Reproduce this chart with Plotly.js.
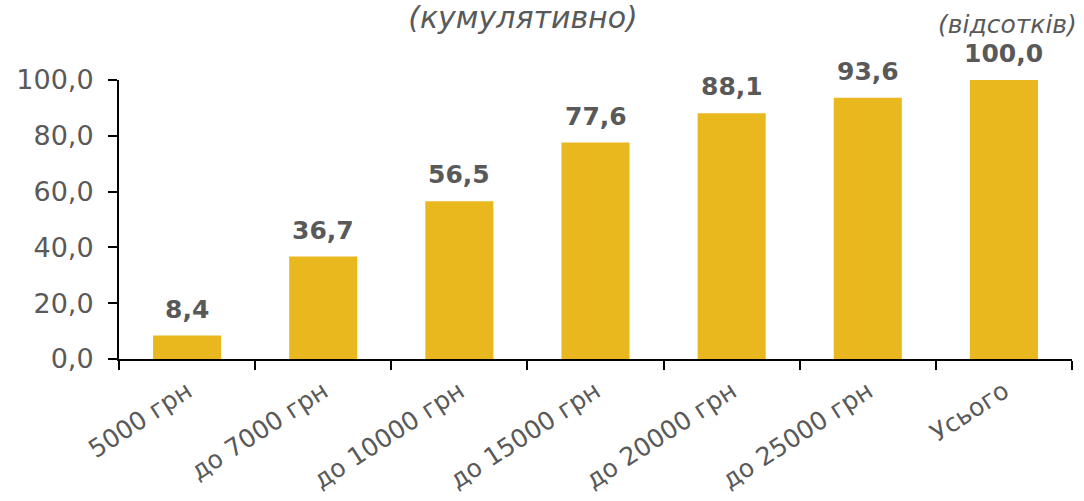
<!DOCTYPE html>
<html>
<head>
<meta charset="utf-8">
<script src="https://cdn.plot.ly/plotly-3.0.1.min.js"></script>
<style>html,body{margin:0;padding:0;background:#fff;}#chart{width:1084px;height:501px;}</style>
</head>
<body>
<div id="chart"></div>
<script>
const categories = ["5000 грн", "до 7000 грн", "до 10000 грн", "до 15000 грн", "до 20000 грн", "до 25000 грн", "Усього"];
const values = [8.4, 36.7, 56.5, 77.6, 88.1, 93.6, 100.0];
const yTicks = [0, 20, 40, 60, 80, 100];
const yTickLabels = ["0,0", "20,0", "40,0", "60,0", "80,0", "100,0"];
const titleText = "(кумулятивно)";
const unitText = "(відсотків)";

const FONT = "DejaVu Sans, Verdana, sans-serif";
const GRAY = "#595959";

const fmt = v => v.toFixed(1).replace(".", ",");

const trace = {
  type: "bar",
  x: categories,
  y: values,
  marker: {color: "#E9B81E"},
  hoverinfo: "skip"
};

const annotations = categories.map((c, i) => ({
  x: c, y: values[i], xref: "x", yref: "y",
  text: "<b>" + fmt(values[i]) + "</b>",
  showarrow: false, yanchor: "bottom", yshift: 10,
  font: {family: FONT, size: 25, color: GRAY}
}));
annotations.push({
  x: 0.932, y: 1.2, xref: "paper", yref: "paper",
  text: "<i>" + unitText + "</i>",
  showarrow: false, xanchor: "center", yanchor: "middle",
  font: {family: FONT, size: 25, color: GRAY}
});

const layout = {
  width: 1084, height: 501,
  margin: {l: 119, r: 12, t: 80, b: 142},
  paper_bgcolor: "#fff", plot_bgcolor: "#fff",
  showlegend: false,
  bargap: 0.5,
  title: {
    text: "<i>" + titleText + "</i>",
    x: 0.4825, xref: "container", xanchor: "center",
    y: 0.966, yref: "container", yanchor: "middle",
    font: {family: FONT, size: 30, color: GRAY}
  },
  xaxis: {
    type: "category",
    showline: true, linecolor: "#000", linewidth: 2,
    ticks: "outside", tickson: "boundaries", ticklen: 9, tickwidth: 2, tickcolor: "#000",
    tickangle: -33,
    ticklabelstandoff: 6,
    tickfont: {family: FONT, size: 25, color: GRAY},
    showgrid: false, zeroline: false, fixedrange: true
  },
  yaxis: {
    range: [0, 100],
    tickvals: yTicks, ticktext: yTickLabels,
    showline: true, linecolor: "#000", linewidth: 2,
    ticks: "outside", ticklen: 9, tickwidth: 2, tickcolor: "#000",
    ticklabelstandoff: 9,
    tickfont: {family: FONT, size: 27, color: GRAY},
    showgrid: false, zeroline: false, fixedrange: true
  },
  annotations: annotations
};

Plotly.newPlot("chart", [trace], layout, {displayModeBar: false, staticPlot: true});
</script>
</body>
</html>
